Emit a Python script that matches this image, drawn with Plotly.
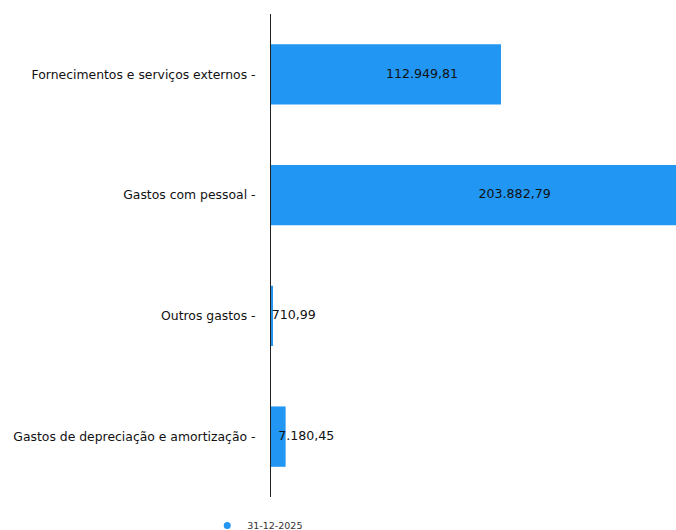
import plotly.graph_objects as go

categories = ["Fornecimentos e serviços externos", "Gastos com pessoal", "Outros gastos",
              "Gastos de depreciação e amortização"]
values = [112949.81, 203882.79, 710.99, 7180.45]
value_labels = ["112.949,81", "203.882,79", "710,99", "7.180,45"]
series_name = "31-12-2025"

color = "#2196F3"

fig = go.Figure()
fig.add_trace(go.Bar(
    y=categories, x=values, orientation="h", width=0.5,
    marker=dict(color=color, line=dict(width=0)),
    showlegend=False, hoverinfo="skip",
))
fig.add_trace(go.Scatter(
    y=categories, x=[v / 2 for v in values], mode="text",
    text=value_labels, textposition="middle right",
    textfont=dict(family="DejaVu Sans", size=12.6, color="#111111"),
    showlegend=False, hoverinfo="skip", cliponaxis=False,
))
fig.add_trace(go.Scatter(
    x=[None], y=[None], mode="markers", name=series_name,
    marker=dict(color=color, size=7, symbol="circle"),
))

fig.update_layout(
    width=676, height=530,
    margin=dict(l=271, r=0, t=14, b=33, autoexpand=False),
    plot_bgcolor="white", paper_bgcolor="white",
    font=dict(family="DejaVu Sans", size=12.4, color="#111111"),
    xaxis=dict(range=[0, 198900], visible=False, showgrid=False, zeroline=False),
    yaxis=dict(
        categoryorder="array", categoryarray=categories[::-1],
        range=[-0.5, 3.5],
        tickmode="array", tickvals=categories,
        ticktext=[c + " -" for c in categories],
        showline=True, linecolor="#222222", linewidth=1,
        ticks="", showgrid=False, zeroline=False, automargin=False,
        ticklabelstandoff=12,
        tickfont=dict(family="DejaVu Sans", size=12.4, color="#111111"),
    ),
    legend=dict(orientation="h", x=-0.1575, xanchor="left", y=-0.029, yanchor="top",
                font=dict(size=9.5, color="#333333"), itemwidth=30),
)

fig.write_html("out.html", config={"displayModeBar": False},
               post_script="document.body.style.margin='0';")
